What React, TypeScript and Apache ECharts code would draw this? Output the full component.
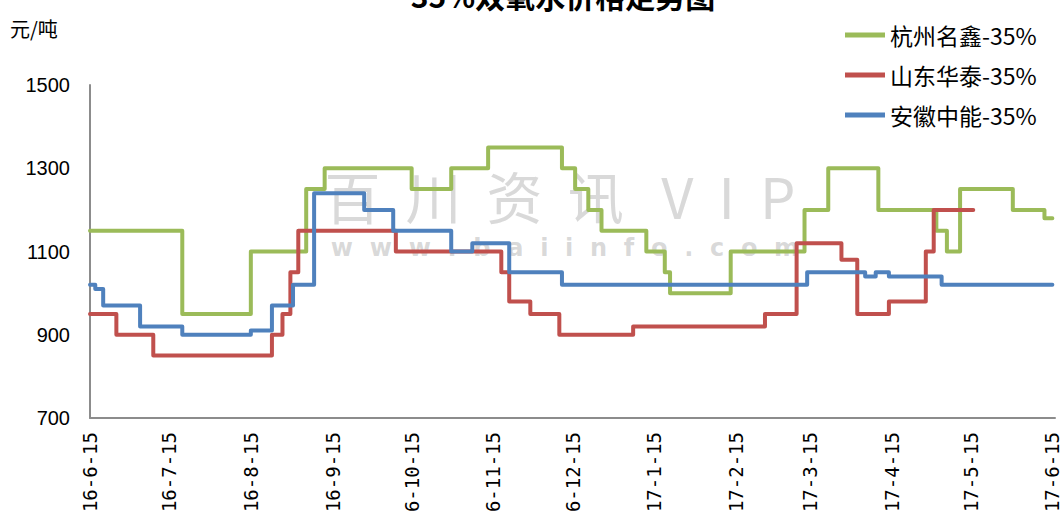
import React, { useEffect, useRef } from "react";
import * as echarts from "echarts";

// ---- data ----
const seriesNames = ["杭州名鑫-35%", "山东华泰-35%", "安徽中能-35%"];

const mingxinDates = [
  "2016-06-15", "2016-07-20", "2016-08-15", "2016-09-05", "2016-09-12", "2016-10-15",
  "2016-10-30", "2016-11-13", "2016-12-11", "2016-12-16", "2016-12-21", "2016-12-26",
  "2017-01-12", "2017-01-19", "2017-01-21", "2017-02-13", "2017-03-13", "2017-03-22",
  "2017-04-10", "2017-05-02", "2017-05-06", "2017-05-11", "2017-05-31", "2017-06-12",
  "2017-06-15",
];
const mingxinPrices = [
  1150, 950, 1100, 1250, 1300, 1250,
  1300, 1350, 1300, 1250, 1200, 1150,
  1100, 1050, 1000, 1100, 1200, 1300,
  1200, 1150, 1100, 1250, 1200, 1180,
  1180,
];

const huataiDates = [
  "2016-06-15", "2016-06-25", "2016-07-09", "2016-08-23", "2016-08-27", "2016-08-30",
  "2016-09-02", "2016-10-09", "2016-11-18", "2016-11-21", "2016-11-29", "2016-12-10",
  "2017-01-07", "2017-02-26", "2017-03-10", "2017-03-27", "2017-04-02", "2017-04-14",
  "2017-04-28", "2017-05-01", "2017-05-16",
];
const huataiPrices = [
  950, 900, 850, 900, 950, 1050,
  1150, 1100, 1050, 980, 950, 900,
  920, 950, 1120, 1080, 950, 980,
  1100, 1200, 1200,
];

const zhongnengDates = [
  "2016-06-15", "2016-06-17", "2016-06-20", "2016-07-04", "2016-07-20", "2016-08-15",
  "2016-08-23", "2016-08-31", "2016-09-08", "2016-09-27", "2016-10-08", "2016-10-30",
  "2016-11-07", "2016-11-21", "2016-12-11", "2017-03-14", "2017-04-05", "2017-04-09",
  "2017-04-14", "2017-05-04", "2017-06-15",
];
const zhongnengPrices = [
  1020, 1010, 970, 920, 900, 910,
  970, 1020, 1240, 1200, 1150, 1100,
  1120, 1050, 1020, 1050, 1040, 1050,
  1040, 1020, 1020,
];

const tickDates = [
  "2016-06-15", "2016-07-15", "2016-08-15", "2016-09-15", "2016-10-15", "2016-11-15",
  "2016-12-15", "2017-01-15", "2017-02-15", "2017-03-15", "2017-04-15", "2017-05-15",
  "2017-06-15",
];
const tickLabels = [
  "16-6-15", "16-7-15", "16-8-15", "16-9-15", "6-10-15", "6-11-15",
  "6-12-15", "17-1-15", "17-2-15", "17-3-15", "17-4-15", "17-5-15",
  "17-6-15",
];

const startDate = "2016-06-15";
const colors = ["#9BBB59", "#C0504D", "#4F81BD"];

function dayIndex(s: string): number {
  const [y, m, d] = s.split("-").map(Number);
  const [y0, m0, d0] = startDate.split("-").map(Number);
  return Math.round((Date.UTC(y, m - 1, d) - Date.UTC(y0, m0 - 1, d0)) / 86400000);
}

function pairs(dates: string[], values: number[]) {
  return dates.map((d, i) => [dayIndex(d), values[i]]);
}

export default function App() {
  const ref = useRef<HTMLDivElement>(null);
  useEffect(() => {
    document.body.style.margin = "0";
    if (!ref.current) return;
    const chart = echarts.init(ref.current, undefined, { renderer: "svg" });
    const tickDays = tickDates.map(dayIndex);
    const seriesData = [
      pairs(mingxinDates, mingxinPrices),
      pairs(huataiDates, huataiPrices),
      pairs(zhongnengDates, zhongnengPrices),
    ];
    chart.setOption({
      animation: false,
      backgroundColor: "#fff",
      grid: { left: 90, right: 9, top: 85, bottom: 108, containLabel: false },
      legend: {
        orient: "vertical",
        left: 840,
        top: 18,
        itemGap: 16,
        itemWidth: 40,
        itemHeight: 5,
        icon: "rect",
        data: seriesNames,
        textStyle: {
          fontSize: 23,
          lineHeight: 24,
          color: "#000",
          fontFamily: '"Noto Sans CJK SC", sans-serif',
        },
      },
      graphic: [
        {
          type: "text",
          z: 0,
          style: {
            text: "35%双氧水价格走势图",
            x: 563,
            y: 10,
            textAlign: "center",
            textVerticalAlign: "bottom",
            font: 'bold 30px "Noto Sans CJK SC"',
            fill: "#000",
          },
        },
        {
          type: "text",
          style: {
            text: "元/吨",
            x: 10,
            y: 28,
            textVerticalAlign: "middle",
            font: '20px "Noto Sans CJK SC"',
            fill: "#000",
          },
        },
        {
          type: "text",
          z: -10,
          silent: true,
          style: {
            text: "百  川  资  讯   V  I  P",
            x: 560,
            y: 194,
            textAlign: "center",
            textVerticalAlign: "middle",
            font: '56px "Noto Sans CJK SC"',
            fill: "rgba(170,170,170,0.45)",
          },
        },
        {
          type: "text",
          z: -10,
          silent: true,
          style: {
            text: "w  w  w  .  b  a  i  i  n  f  o  .  c  o  m",
            x: 565,
            y: 248,
            textAlign: "center",
            textVerticalAlign: "middle",
            font: 'bold 24px "DejaVu Sans"',
            fill: "rgba(170,170,170,0.45)",
          },
        },
      ],
      xAxis: {
        type: "value",
        min: 0,
        max: 366,
        splitLine: { show: false },
        axisLine: { show: true, lineStyle: { color: "#8c8c8c", width: 2 } },
        axisTick: { show: false },
        axisLabel: {
          customValues: tickDays,
          rotate: 90,
          margin: 14,
          fontSize: 19,
          color: "#000",
          fontFamily: '"DejaVu Sans Mono", monospace',
          hideOverlap: false,
          showMinLabel: true,
          showMaxLabel: true,
          formatter: (v: number) => {
            const i = tickDays.indexOf(Math.round(v));
            return i >= 0 ? tickLabels[i] : "";
          },
        },
      },
      yAxis: {
        type: "value",
        min: 700,
        max: 1500,
        interval: 200,
        splitLine: { show: false },
        axisLine: { show: true, lineStyle: { color: "#8c8c8c", width: 2 } },
        axisTick: { show: false },
        axisLabel: {
          margin: 20,
          fontSize: 20,
          color: "#000",
          fontFamily: '"Liberation Sans", sans-serif',
          formatter: (v: number) => String(v),
        },
      },
      series: seriesNames.map((name, i) => ({
        name,
        type: "line",
        step: "end",
        data: seriesData[i],
        showSymbol: false,
        symbol: "none",
        z: 3 + i,
        color: colors[i],
        lineStyle: { width: 4, color: colors[i], join: "round", cap: "round" },
      })),
    });
    return () => chart.dispose();
  }, []);
  return <div ref={ref} style={{ width: 1064, height: 526 }} />;
}
